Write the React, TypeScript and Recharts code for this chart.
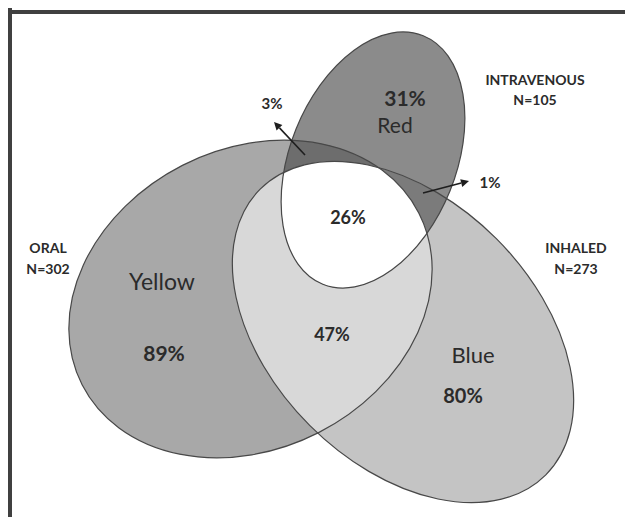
import React from "react";
import { ScatterChart, Scatter, XAxis, YAxis, ReferenceLine } from "recharts";

// ---- data (image-pixel units) ----
const setNames = ["ORAL", "INTRAVENOUS", "INHALED"];
const setCenterX = [250.5, 373, 403];
const setCenterY = [299, 160, 332];
const setRadiusMajor = [189, 134, 202];
const setRadiusMinor = [150, 83, 132];
const setAngle = [-27, 112, 45];
const setFill = ["#a8a8a8", "#8b8b8b", "#c4c4c4"];

// overlap regions: base set drawn clipped by the listed sets
const overlapBase = [2, 1, 1, 1];
const overlapClips = [[0], [0], [2], [0, 2]];
const overlapFill = ["#d8d8d8", "#6d6d6d", "#7b7b7b", "#ffffff"];

const labelText = ["ORAL", "N=302", "INTRAVENOUS", "N=105", "INHALED", "N=273", "31%", "Red", "3%", "1%", "26%", "Yellow", "89%", "47%", "Blue", "80%"];
const labelX = [48, 48, 535, 535, 576, 576, 405, 395, 272, 490, 348, 162, 164, 332, 473, 463];
const labelY = [247, 268, 79, 99, 247, 268, 97, 124, 103, 182, 217, 281, 352, 334, 354, 395];
const labelSize = [14, 14, 14, 14, 14, 14, 21, 21, 15, 15, 18, 23, 21, 18, 22, 20];
const labelBold = [true, true, true, true, true, true, true, false, true, true, true, false, true, true, false, true];

const arrowFromX = [305, 423];
const arrowFromY = [155, 193];
const arrowToX = [274, 469];
const arrowToY = [122, 181];

// ---- chart geometry ----
const CHART_W = 625;
const CHART_H = 509;
const X_DOMAIN: [number, number] = [8, 633];
const Y_DOMAIN: [number, number] = [8, 517];
const kx = CHART_W / (X_DOMAIN[1] - X_DOMAIN[0]);
const ky = CHART_H / (Y_DOMAIN[1] - Y_DOMAIN[0]);

const ellipseRows = setNames.map((name, i) => ({
  id: i,
  name,
  x: setCenterX[i],
  y: setCenterY[i],
  rx: setRadiusMajor[i],
  ry: setRadiusMinor[i],
  angle: setAngle[i],
  fill: setFill[i],
}));

const overlapRows = overlapBase.map((b, i) => ({
  id: i,
  x: setCenterX[b],
  y: setCenterY[b],
  rx: setRadiusMajor[b],
  ry: setRadiusMinor[b],
  angle: setAngle[b],
  clips: overlapClips[i],
  fill: overlapFill[i],
}));

const labelRows = labelText.map((t, i) => ({
  x: labelX[i],
  y: labelY[i],
  text: t,
  size: labelSize[i],
  bold: labelBold[i],
}));

const arrowRows = arrowFromX.map((x, i) => ({
  x,
  y: arrowFromY[i],
  toX: arrowToX[i],
  toY: arrowToY[i],
}));

const FONT = "Lato, 'Open Sans', sans-serif";

const EllipseFill = (props: any) => {
  const { cx, cy, payload } = props;
  const rx = payload.rx * kx;
  const ry = payload.ry * ky;
  const tr = `rotate(${payload.angle} ${cx} ${cy})`;
  return (
    <g>
      <defs>
        <clipPath id={`venn-clip-${payload.id}`}>
          <ellipse cx={cx} cy={cy} rx={rx} ry={ry} transform={tr} />
        </clipPath>
      </defs>
      <ellipse cx={cx} cy={cy} rx={rx} ry={ry} transform={tr} fill={payload.fill} />
    </g>
  );
};

const OverlapFill = (props: any) => {
  const { cx, cy, payload } = props;
  const rx = payload.rx * kx;
  const ry = payload.ry * ky;
  let node: any = (
    <ellipse cx={cx} cy={cy} rx={rx} ry={ry} transform={`rotate(${payload.angle} ${cx} ${cy})`} fill={payload.fill} />
  );
  payload.clips.forEach((c: number) => {
    node = <g clipPath={`url(#venn-clip-${c})`}>{node}</g>;
  });
  return node;
};

const EllipseOutline = (props: any) => {
  const { cx, cy, payload } = props;
  const rx = payload.rx * kx;
  const ry = payload.ry * ky;
  return (
    <ellipse
      cx={cx}
      cy={cy}
      rx={rx}
      ry={ry}
      transform={`rotate(${payload.angle} ${cx} ${cy})`}
      fill="none"
      stroke="#484848"
      strokeWidth={1.2}
    />
  );
};

const LabelShape = (props: any) => {
  const { cx, cy, payload } = props;
  return (
    <text
      x={cx}
      y={cy}
      textAnchor="middle"
      dominantBaseline="central"
      fontFamily={FONT}
      fontSize={payload.size}
      fontWeight={payload.bold ? 700 : 400}
      fill="#2b2b2b"
    >
      {payload.text}
    </text>
  );
};

const ArrowShape = (props: any) => {
  const { cx, cy, payload } = props;
  const x1 = cx;
  const y1 = cy;
  const x2 = cx + (payload.toX - payload.x) * kx;
  const y2 = cy + (payload.toY - payload.y) * ky;
  const a = Math.atan2(y2 - y1, x2 - x1);
  const L = 8;
  const W = 4;
  const bx = x2 - L * Math.cos(a);
  const by = y2 - L * Math.sin(a);
  const pts = `${x2},${y2} ${bx + W * Math.sin(a)},${by - W * Math.cos(a)} ${bx - W * Math.sin(a)},${by + W * Math.cos(a)}`;
  return (
    <g>
      <line x1={x1} y1={y1} x2={bx} y2={by} stroke="#1e1e1e" strokeWidth={1.6} />
      <polygon points={pts} fill="#1e1e1e" />
    </g>
  );
};

export default function App() {
  return (
    <div style={{ width: CHART_W, height: CHART_H }}>
      <ScatterChart width={CHART_W} height={CHART_H} margin={{ top: 0, right: 0, bottom: 0, left: 0 }}>
        <XAxis type="number" dataKey="x" domain={X_DOMAIN} hide allowDataOverflow />
        <YAxis type="number" dataKey="y" domain={Y_DOMAIN} reversed hide allowDataOverflow />
        <ReferenceLine
          segment={[
            { x: 10, y: 8 },
            { x: 10, y: 517 },
          ]}
          stroke="#404040"
          strokeWidth={4}
          ifOverflow="visible"
        />
        <ReferenceLine
          segment={[
            { x: 8, y: 12 },
            { x: 633, y: 12 },
          ]}
          stroke="#404040"
          strokeWidth={4}
          ifOverflow="visible"
        />
        <Scatter data={ellipseRows} shape={EllipseFill} isAnimationActive={false} />
        <Scatter data={overlapRows} shape={OverlapFill} isAnimationActive={false} />
        <Scatter data={ellipseRows} shape={EllipseOutline} isAnimationActive={false} />
        <Scatter data={arrowRows} shape={ArrowShape} isAnimationActive={false} />
        <Scatter data={labelRows} shape={LabelShape} isAnimationActive={false} />
      </ScatterChart>
    </div>
  );
}
